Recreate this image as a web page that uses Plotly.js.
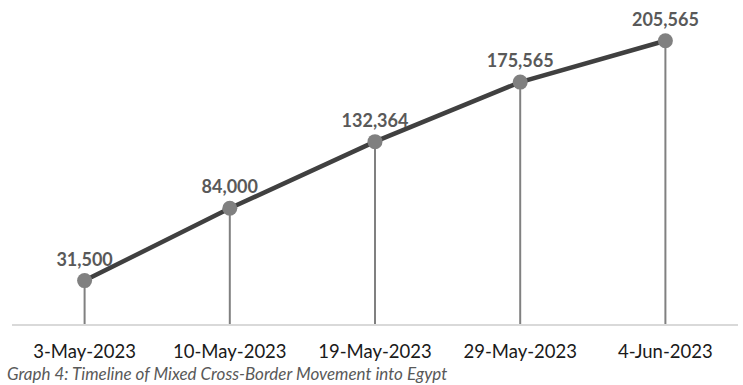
<!DOCTYPE html>
<html>
<head>
<meta charset="utf-8">
<script src="https://cdn.plot.ly/plotly-3.0.1.min.js"></script>
<style>html,body{margin:0;padding:0;background:#fff;}#chart{width:743px;height:385px;}</style>
</head>
<body>
<div id="chart"></div>
<script>
const dates = ["3-May-2023", "10-May-2023", "19-May-2023", "29-May-2023", "4-Jun-2023"];
const movements = [31500, 84000, 132364, 175565, 205565];
const caption = "Graph 4: Timeline of Mixed Cross-Border Movement into Egypt";

const labels = movements.map(v => v.toLocaleString("en-US"));
const zeros = movements.map(() => 0);

const trace = {
  x: dates,
  y: movements,
  type: "scatter",
  mode: "lines+markers+text",
  text: labels,
  textposition: "top center",
  textfont: {family: "Lato, 'Open Sans', sans-serif", size: 18, color: "#595959", weight: "bold"},
  line: {color: "#404040", width: 4.5},
  marker: {color: "#808080", size: 15},
  error_y: {type: "data", symmetric: false, array: zeros, arrayminus: movements, color: "#808080", thickness: 2, width: 0},
  cliponaxis: false,
  hoverinfo: "skip"
};

const layout = {
  width: 743, height: 385,
  margin: {l: 12, r: 5, t: 14, b: 61},
  paper_bgcolor: "#ffffff", plot_bgcolor: "#ffffff",
  showlegend: false,
  xaxis: {
    type: "category",
    range: [-0.5, 4.5],
    showgrid: false, zeroline: false,
    showline: true, linecolor: "#d9d9d9", linewidth: 2,
    ticks: "", ticklabelstandoff: 10,
    tickfont: {family: "Lato, 'Open Sans', sans-serif", size: 18.5, color: "#1a1a1a"}
  },
  yaxis: {
    range: [0, 225000],
    showgrid: false, zeroline: false, showline: false,
    showticklabels: false, ticks: ""
  },
  annotations: [{
    text: "<i>" + caption + "</i>", xref: "paper", yref: "paper", x: 0, y: 0,
    xanchor: "left", yanchor: "top", xshift: -7, yshift: -37, showarrow: false,
    font: {family: "Lato, 'Open Sans', sans-serif", size: 17, color: "#595959"}
  }]
};

Plotly.newPlot("chart", [trace], layout, {staticPlot: true});
</script>
</body>
</html>
